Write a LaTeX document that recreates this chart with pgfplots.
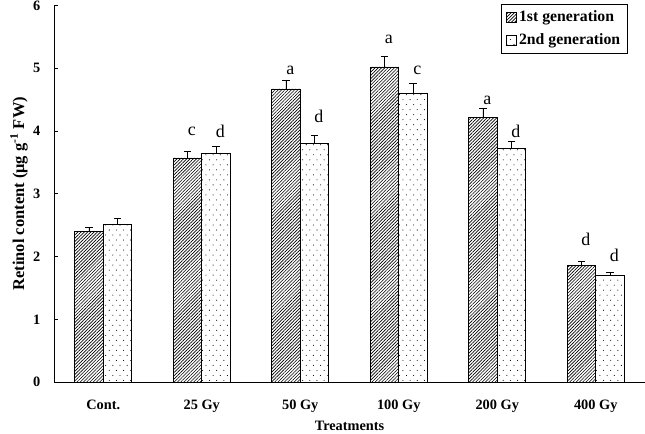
\documentclass[border=0pt]{standalone}
\usepackage{fontspec}
\setmainfont{Liberation Serif}
\usepackage{pgfplots}
\pgfplotsset{compat=1.18}
\usetikzlibrary{patterns,patterns.meta}
\pgfdeclarepatternformonly{sdots}{\pgfqpoint{-1pt}{-1pt}}{\pgfqpoint{6pt}{8pt}}{\pgfqpoint{5pt}{7pt}}{%
  \pgfpathcircle{\pgfqpoint{1.25pt}{1.75pt}}{0.38pt}%
  \pgfpathcircle{\pgfqpoint{3.75pt}{5.25pt}}{0.38pt}%
  \pgfusepath{fill}}
\begin{document}
\begin{tikzpicture}
\begin{axis}[
  scale only axis,
  width=412.5pt, height=262.9pt,
  xmin=-0.5, xmax=5.5, ymin=0, ymax=6,
  axis x line=bottom, axis y line=left,
  axis line style={-, line width=0.6pt},
  font=\bfseries\fontsize{10}{12}\selectfont,
  /pgf/number format/assume math mode=true,
  xtick={0,1,2,3,4,5},
  xticklabels={Cont., 25 Gy, 50 Gy, 100 Gy, 200 Gy, 400 Gy},
  major x tick style={draw=none},
  extra x ticks={0.5,1.5,2.5,3.5,4.5},
  extra x tick labels={},
  extra x tick style={major tick length=3pt, tick align=inside, tick style={line width=0.5pt, black}},
  ytick={0,1,2,3,4,5,6},
  tick align=inside, major tick length=3pt,
  ytick style={line width=0.5pt, black},
  xticklabel style={yshift=-6pt},
  yticklabel style={xshift=-6pt},
  xlabel={Treatments},
  ylabel={Retinol content (μg g\textsuperscript{-1} FW)},
  xlabel style={yshift=4pt},
  ylabel style={yshift=-3pt, font=\bfseries\fontsize{11.5}{13}\selectfont},
  ybar, bar width=0.29,
  legend style={at={(1,1)}, anchor=north east, xshift=-12pt, yshift=1pt,
    draw=black, line width=0.6pt, font=\bfseries\fontsize{11}{13}\selectfont,
    row sep=3pt, inner xsep=3pt, inner ysep=2.5pt},
  legend cell align=left,
  legend image code/.code={\draw[#1, line width=0.4pt] (0cm,-0.12cm) rectangle (0.24cm,0.12cm);},
  error bars/y dir=plus, error bars/y explicit,
  error bars/error bar style={line width=0.5pt, black},
  error bars/error mark options={rotate=90, mark size=2.5pt, line width=0.5pt, black},
]
\addplot[bar shift=-0.145, draw=black, line width=0.5pt, fill=white,
  postaction={pattern={Lines[angle=45,distance=1.6pt,line width=0.45pt]}}]
  coordinates {(0,2.40) +- (0,0.07) (1,3.57) +- (0,0.11) (2,4.67) +- (0,0.13) (3,5.02) +- (0,0.17) (4,4.22) +- (0,0.14) (5,1.86) +- (0,0.06)};
\addlegendentry{1st generation}
\addplot[bar shift=0.145, draw=black, line width=0.5pt, fill=white,
  postaction={pattern=sdots}]
  coordinates {(0,2.52) +- (0,0.09) (1,3.65) +- (0,0.11) (2,3.80) +- (0,0.13) (3,4.60) +- (0,0.16) (4,3.73) +- (0,0.11) (5,1.70) +- (0,0.05)};
\addlegendentry{2nd generation}
\addplot[ybar=0pt, draw=none, fill=none, bar width=0, forget plot,
  nodes near coords, point meta=explicit symbolic,
  every node near coord/.append style={font=\mdseries\fontsize{12.5}{14}\selectfont, anchor=center, yshift=0pt, inner sep=0pt},
  error bars/y dir=none]
  coordinates {(0.855,4.0)[c] (1.145,4.0)[d] (1.855,4.97)[a] (2.145,4.24)[d] (2.855,5.46)[a] (3.145,4.97)[c] (3.855,4.48)[a] (4.145,4.0)[d] (4.855,2.27)[d] (5.145,2.02)[d]};
\end{axis}
\pgfresetboundingbox
\path (-37.7pt,-35.6pt) rectangle (412.5pt,266.7pt);
\end{tikzpicture}
\end{document}
